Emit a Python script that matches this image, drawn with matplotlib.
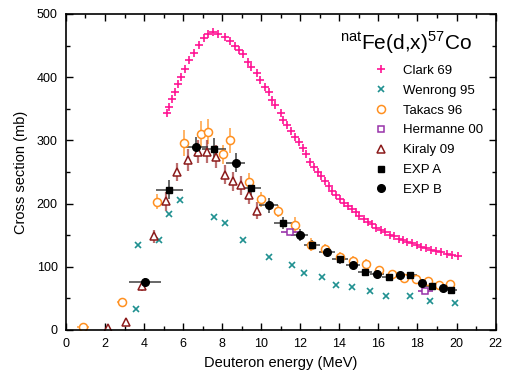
import matplotlib
matplotlib.use("Agg")
import matplotlib.pyplot as plt
from matplotlib.ticker import MultipleLocator

plt.rcParams['font.family'] = ['Liberation Sans', 'DejaVu Sans']
plt.rcParams['mathtext.fontset'] = 'custom'
plt.rcParams['mathtext.rm'] = 'Liberation Sans'

# Clark 69
clark_e = [5.16, 5.30, 5.42, 5.59, 5.74, 5.88, 6.09, 6.32, 6.55, 6.80, 7.06, 7.30, 7.55, 7.79,
           8.12, 8.41, 8.65, 8.87, 9.08, 9.30, 9.50, 9.76, 9.95, 10.19, 10.38, 10.55, 10.72,
           10.99, 11.14, 11.32, 11.54, 11.74, 11.95, 12.12, 12.31, 12.51, 12.72, 12.91, 13.06,
           13.25, 13.45, 13.64, 13.85, 14.02, 14.22, 14.45, 14.63, 14.86, 15.03, 15.28, 15.47,
           15.68, 15.90, 16.15, 16.36, 16.58, 16.82, 17.04, 17.27, 17.47, 17.73, 17.96, 18.19,
           18.45, 18.68, 18.96, 19.22, 19.49, 19.79, 20.07]
clark_s = [344, 353, 365, 377, 390, 400, 413, 427, 439, 451, 462, 468, 472, 468,
           464, 458, 449, 443, 436, 424, 416, 406, 395, 385, 376, 364, 356,
           343, 333, 324, 315, 306, 298, 288, 278, 266, 258, 250, 244,
           236, 228, 220, 214, 207, 201, 196, 191, 186, 180, 175, 171,
           167, 162, 158, 155, 151, 148, 144, 142, 139, 137, 134, 131,
           129, 127, 125, 123, 121, 119, 117]

# Wenrong 95
wen_e = [3.57, 3.67, 4.77, 5.28, 5.85, 7.59, 8.14, 9.06, 10.39, 11.59, 12.21, 13.09,
         13.85, 14.65, 15.56, 16.41, 17.61, 18.63, 19.91]
wen_s = [34, 134, 143, 184, 206, 179, 169, 142, 116, 103, 90, 84,
         71, 68, 61, 54, 53, 46, 42]

# Takacs 96
tak_e = [0.89, 2.85, 4.65, 6.07, 6.91, 7.30, 8.03, 8.38, 9.37, 9.97, 10.85, 11.74,
         12.53, 13.29, 14.01, 14.70, 15.35, 16.05, 16.70, 17.33, 17.93, 18.54, 19.09, 19.69]
tak_s = [5, 44, 203, 296, 310, 314, 278, 300, 234, 207, 188, 166,
         135, 128, 116, 109, 105, 95, 88, 82, 80, 78, 71, 72]
tak_yerr = [3, 4, 12, 20, 20, 20, 15, 20, 15, 12, 10, 12,
            10, 8, 8, 8, 8, 7, 6, 6, 6, 6, 6, 6]
tak_xerr = [0.3, 0.25, 0.15, 0.1, 0.1, 0.1, 0.1, 0.1, 0.1, 0.1, 0.1, 0.1,
            0.1, 0.1, 0.1, 0.1, 0.1, 0.1, 0.1, 0.1, 0.1, 0.1, 0.1, 0.1]

# Hermanne 00
her_e = [11.49, 18.41]
her_s = [155, 62]
her_xerr = [0.5, 0.4]

# Kiraly 09
kir_e = [2.17, 3.10, 3.88, 4.53, 5.14, 5.69, 6.24, 6.77, 7.23, 7.70, 8.12, 8.55, 8.96, 9.35, 9.76]
kir_s = [3, 13, 69, 148, 204, 250, 269, 282, 282, 274, 246, 235, 229, 214, 189]
kir_yerr = [3, 5, 8, 10, 15, 15, 18, 18, 18, 18, 15, 15, 15, 15, 13]

# EXP A
expa_e = [5.29, 7.59, 9.50, 11.11, 12.60, 14.02, 15.30, 16.53, 17.62, 18.74, 19.74]
expa_s = [222, 287, 224, 169, 134, 112, 91, 84, 87, 69, 63]
expa_xerr = [0.7, 0.6, 0.5, 0.45, 0.4, 0.4, 0.35, 0.35, 0.35, 0.3, 0.3]
expa_yerr = [15, 16, 14, 10, 8, 7, 6, 6, 5, 5, 5]

# EXP B
expb_e = [4.05, 6.67, 8.69, 10.38, 11.97, 13.37, 14.70, 15.92, 17.09, 18.21, 19.32]
expb_s = [76, 290, 265, 197, 150, 124, 103, 89, 87, 74, 67]
expb_xerr = [0.8, 0.6, 0.5, 0.5, 0.45, 0.4, 0.35, 0.35, 0.35, 0.3, 0.3]
expb_yerr = [6, 16, 15, 12, 9, 7, 6, 5, 5, 5, 4]

c_clark = '#ff1493'
c_wen = '#1f9090'
c_tak = '#ff9020'
c_her = '#9933aa'
c_kir = '#8b1a1a'

fig = plt.figure(figsize=(5.07, 3.77), dpi=100)
ax = fig.add_axes([0.130, 0.1247, 0.8475, 0.8382])

# error bars first
ax.errorbar(tak_e, tak_s, yerr=tak_yerr, xerr=tak_xerr, fmt='none', ecolor=c_tak,
            elinewidth=1.2, alpha=0.8)
ax.errorbar(kir_e, kir_s, yerr=kir_yerr, fmt='none', ecolor='#a03030',
            elinewidth=1.6, alpha=0.7)
ax.errorbar(her_e, her_s, xerr=her_xerr, fmt='none', ecolor=c_her, elinewidth=1.2)
ax.errorbar(expa_e, expa_s, yerr=expa_yerr, xerr=expa_xerr, fmt='none', ecolor='#333333',
            elinewidth=1.3, alpha=0.8)
ax.errorbar(expb_e, expb_s, yerr=expb_yerr, xerr=expb_xerr, fmt='none', ecolor='#333333',
            elinewidth=1.3, alpha=0.8)

ax.plot(clark_e, clark_s, '+', color=c_clark, ms=5.5, mew=1.2, label='Clark 69', ls='none')
ax.plot(wen_e, wen_s, 'x', color=c_wen, ms=5, mew=1.2, label='Wenrong 95', ls='none')
ax.plot(tak_e, tak_s, 'o', color=c_tak, mfc='white', ms=5.8, mew=1.1,
        label='Takacs 96', ls='none')
ax.plot(her_e, her_s, 's', color=c_her, mfc='white', ms=5, mew=1.1,
        label='Hermanne 00', ls='none')
ax.plot(kir_e, kir_s, '^', color=c_kir, mfc='white', ms=6.2, mew=1.1,
        label='Kiraly 09', ls='none')
ax.plot(expa_e, expa_s, 's', color='black', ms=5, label='EXP A', ls='none')
ax.plot(expb_e, expb_s, 'o', color='black', ms=5.5, label='EXP B', ls='none')

ax.set_xlim(0, 22)
ax.set_ylim(0, 500)
ax.xaxis.set_major_locator(MultipleLocator(2))
ax.xaxis.set_minor_locator(MultipleLocator(1))
ax.yaxis.set_major_locator(MultipleLocator(100))
ax.yaxis.set_minor_locator(MultipleLocator(50))
ax.tick_params(which='both', direction='in', top=True, right=True, labelsize=9, width=1)
ax.tick_params(which='major', length=5, pad=6)
ax.tick_params(which='minor', length=3)
for sp in ax.spines.values():
    sp.set_linewidth(1.2)

ax.set_xlabel('Deuteron energy (MeV)', fontsize=10.5, labelpad=4)
ax.set_ylabel('Cross section (mb)', fontsize=10.5, labelpad=6)

ax.text(0.638, 0.886, r'$^{\mathrm{nat}}$Fe(d,x)$^{57}$Co', transform=ax.transAxes,
        fontsize=15, ha='left', va='baseline')

ax.legend(loc='upper left', bbox_to_anchor=(0.718, 0.84), frameon=False,
          fontsize=9.5, handlelength=1.0, handletextpad=1.2, labelspacing=0.58,
          borderpad=0, borderaxespad=0, numpoints=1)

fig.savefig('out.png', dpi=100)
